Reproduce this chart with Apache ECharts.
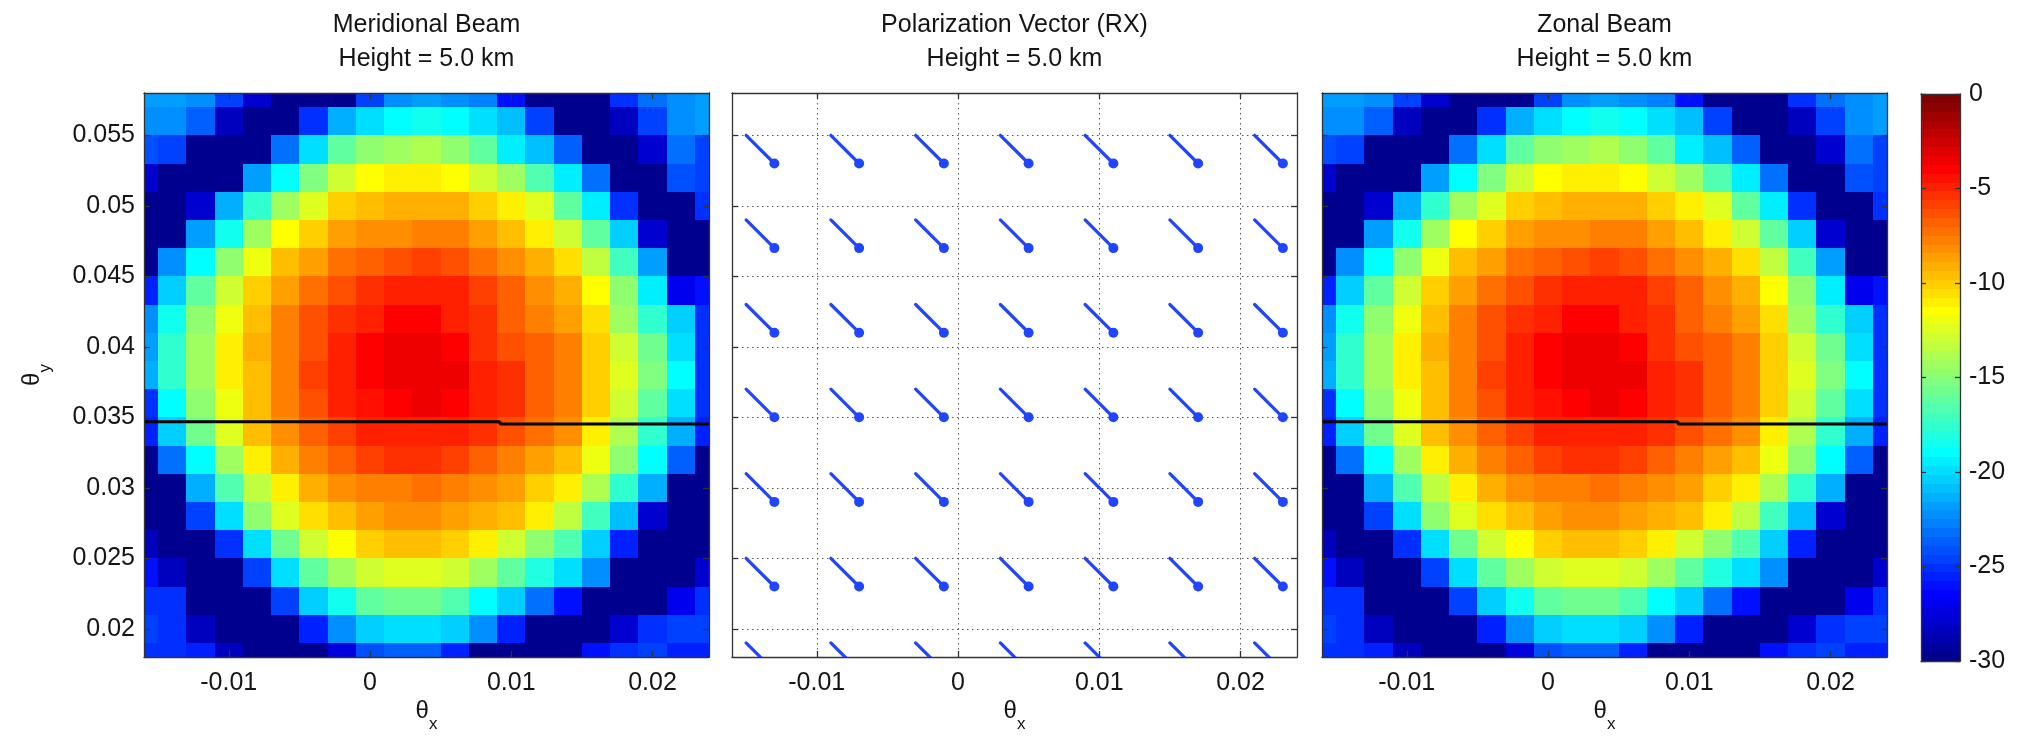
<!DOCTYPE html>
<html><head><meta charset="utf-8">
<script src="https://cdn.jsdelivr.net/npm/echarts@6/dist/echarts.min.js"></script>
<style>html,body{margin:0;padding:0;background:#fff}#c{width:2026px;height:739px}</style>
</head><body><div id="c"></div>
<script>
// ---------------- data ----------------
const cellX = [-0.016,-0.014,-0.012,-0.010,-0.008,-0.006,-0.004,-0.002,0.000,0.002,0.004,0.006,0.008,0.010,0.012,0.014,0.016,0.018,0.020,0.022,0.024];
const cellY = [0.058,0.056,0.054,0.052,0.050,0.048,0.046,0.044,0.042,0.040,0.038,0.036,0.034,0.032,0.030,0.028,0.026,0.024,0.022,0.020,0.018];
// beam pattern in dB, rows follow cellY (top -> bottom), columns follow cellX
const beamDB = [
 [-21.8,-21.8,-22.4,-24.5,-27.9,-30,-30,-30,-24.5,-22.4,-21.8,-22.2,-22.7,-26,-30,-30,-30,-25,-23,-22.2,-21.8],
 [-22.1,-22.1,-23.9,-28.3,-30,-30,-25,-21.5,-19.8,-19.2,-18.7,-19.0,-19.8,-20.7,-24.5,-30,-30,-28.5,-24.5,-22.5,-21.8],
 [-24.2,-24.5,-30,-30,-30,-23.3,-19.8,-16.4,-14.6,-14.3,-14.0,-14.6,-16.4,-19.3,-21,-23.8,-30,-30,-28,-23,-24.5],
 [-28,-30,-30,-30,-21.8,-19,-15.2,-12.9,-11.6,-11.25,-11.25,-11.4,-12.9,-14.5,-16.5,-19.5,-23.3,-30,-30,-24,-24.5],
 [-30,-30,-28,-21.2,-17.6,-14.3,-12.2,-10.2,-9.4,-9.1,-9.1,-9.2,-9.9,-10.9,-12.5,-16,-19.5,-25,-30,-30,-25],
 [-30,-30,-21.8,-18.5,-14.3,-11.7,-9.9,-8.9,-8.2,-8.0,-7.9,-7.9,-8.6,-9.4,-10.8,-12.9,-16,-20.5,-28,-30,-30],
 [-30,-22.4,-19,-14.6,-12.1,-9.7,-8.5,-7.3,-7.0,-6.4,-5.9,-6.4,-7.1,-8.2,-9.2,-10.5,-13.5,-17,-22,-30,-30],
 [-25.5,-20.4,-16.4,-12.9,-9.9,-8.75,-7.3,-6.4,-5.25,-4.9,-4.9,-5.0,-5.8,-7.0,-8.0,-9.0,-11.3,-15,-19.5,-27,-26],
 [-22.1,-18.75,-14.6,-11.8,-9.4,-7.9,-6.4,-5.4,-4.8,-4.0,-4.0,-4.8,-5.6,-6.7,-7.8,-8.6,-10.5,-14.3,-17.5,-20.5,-25],
 [-21.8,-17.6,-14.3,-11.25,-9.1,-7.6,-6.1,-5.0,-4.0,-3.6,-3.4,-4.2,-5.25,-6.1,-7.0,-7.6,-9.9,-12.9,-15.7,-19.7,-25],
 [-21.5,-17.5,-14.3,-11.25,-9.4,-7.6,-5.9,-5.0,-4.2,-3.6,-3.5,-3.6,-4.8,-5.6,-6.8,-7.6,-9.9,-12.5,-15.2,-19.2,-25],
 [-25,-18.9,-14.6,-11.8,-9.7,-7.6,-6.2,-5.0,-4.5,-4.2,-3.4,-4.0,-4.8,-5.6,-6.8,-7.9,-9.9,-12.7,-16.4,-19.8,-25],
 [-25.5,-20.4,-15.5,-12.2,-9.7,-8.2,-6.7,-5.8,-5.0,-4.8,-4.8,-4.9,-5.6,-6.4,-7.4,-8.2,-10.8,-14.0,-17.5,-21.5,-25.5],
 [-30,-23,-19.2,-14.3,-11.25,-9.1,-7.9,-6.7,-5.9,-5.6,-5.6,-5.7,-6.7,-7.6,-8.8,-9.6,-11.9,-14.6,-19.2,-23.5,-30],
 [-30,-30,-21.5,-16.8,-13.2,-11.0,-9.3,-8.4,-7.8,-7.6,-7.5,-7.6,-8.2,-8.75,-9.9,-11.0,-14.0,-17.6,-21.5,-30,-30],
 [-30,-30,-24.5,-20.1,-14.6,-12.5,-10.6,-9.4,-8.75,-8.4,-8.4,-8.5,-9.1,-9.7,-11.2,-13.4,-17.0,-20.8,-28,-30,-30],
 [-28.3,-30,-30,-25,-19.8,-15.6,-12.9,-11.6,-10.1,-9.8,-9.8,-10.1,-11.1,-12.9,-14.6,-16.6,-20.6,-25.5,-30,-30,-30],
 [-26,-28.5,-30,-30,-24.5,-19.8,-16,-14.3,-12.9,-12.4,-12.4,-13.1,-14.3,-16.0,-18.0,-20.1,-22.1,-30,-30,-30,-28],
 [-25,-25.3,-30,-30,-30,-24.5,-20.4,-18.5,-16.4,-15.6,-15.6,-16.6,-19.2,-20.4,-23,-26,-30,-30,-30,-27,-25],
 [-24.5,-25,-28.3,-30,-30,-30,-25.5,-22.1,-20.4,-19.8,-19.8,-20.4,-22.4,-25.5,-30,-30,-30,-28,-25,-24.5,-24.5],
 [-25,-25,-25.5,-28.5,-30,-30,-30,-27.5,-24.2,-23.6,-23.9,-25.5,-30,-30,-30,-30,-26,-25,-24.8,-25.5,-25.5]
];
// black cut line drawn on both beam panels
const cutX = [-0.016, 0.0092, 0.0092, 0.024];
const cutY = [0.03468, 0.03468, 0.03453, 0.03453];
// polarization vectors (start points and constant displacement)
const vecX0 = [-0.015,-0.009,-0.003,0.003,0.009,0.015,0.021];
const vecY0 = [0.055,0.049,0.043,0.037,0.031,0.025,0.019];
const vecU = 0.002, vecV = -0.002;
// ticks / labels
const xTicks = [-0.01, 0, 0.01, 0.02];
const yTicks = [0.02, 0.025, 0.03, 0.035, 0.04, 0.045, 0.05, 0.055];
const panelTitles = ['Meridional Beam', 'Polarization Vector (RX)', 'Zonal Beam'];
const heightText = 'Height = 5.0 km';
const X_MIN = -0.016, X_MAX = 0.024, Y_MIN = 0.018, Y_MAX = 0.058;
const C_MIN = -30, C_MAX = 0, C_STEP = 5, N_COLORS = 64;

// ---------------- style ----------------
const FONT = '"Liberation Sans Narrow", "Liberation Sans", Arial, sans-serif';
const FS = 25;
const AX = '#333';
const TXT = '#151515';
const VEC = '#1f45ff';
const panels = [
  {left: 144, top: 93, width: 565, height: 564},
  {left: 732, top: 93, width: 565, height: 564},
  {left: 1322, top: 93, width: 565, height: 564}
];
const cbGrid = {left: 1921, top: 94, width: 39, height: 567};

function jetRGB(i) {
  const x = i / N_COLORS;
  const c = t => Math.max(0, Math.min(1, t));
  return [c(1.5 - Math.abs(4 * x - 3)), c(1.5 - Math.abs(4 * x - 2)), c(1.5 - Math.abs(4 * x - 1))];
}
function css(rgb) { return 'rgb(' + rgb.map(v => Math.round(v * 255)).join(',') + ')'; }
function jetIndex(v) {
  const i = Math.floor((v - C_MIN) / (C_MAX - C_MIN) * N_COLORS) + 1;
  return Math.max(1, Math.min(N_COLORS, i));
}
function jetColor(v) { return css(jetRGB(jetIndex(v))); }

const fmt = v => String(+v.toFixed(4));
const nameRich = {
  t: {fontFamily: FONT, fontSize: 24, color: TXT, lineHeight: 24},
  s: {fontFamily: FONT, fontSize: 17, color: TXT, lineHeight: 24, padding: [26, 0, 0, 0]}
};

const xAxes = [], yAxes = [];
panels.forEach((p, i) => {
  const frameZ = (i === 1) ? 0 : 5;
  const split = (i === 1);
  xAxes.push({
    type: 'value', gridIndex: i, position: 'bottom', min: X_MIN, max: X_MAX, z: frameZ,
    axisLine: {show: true, onZero: false, lineStyle: {color: AX, width: 1.3}},
    axisTick: {show: true, inside: true, length: 6, customValues: xTicks, lineStyle: {color: AX, width: 1.3}},
    axisLabel: {show: true, customValues: xTicks, margin: 14, color: TXT, fontFamily: FONT, fontSize: FS, formatter: fmt},
    splitLine: {show: split, lineStyle: {color: '#555', type: [1.5, 3.5], width: 1}},
    name: '{t|θ}{s|x}', nameLocation: 'middle', nameGap: 42, nameMoveOverlap: false,
    nameTextStyle: {rich: nameRich}
  });
  xAxes.push({
    type: 'value', gridIndex: i, position: 'top', min: X_MIN, max: X_MAX, z: frameZ,
    axisLine: {show: true, onZero: false, lineStyle: {color: AX, width: 1.3}},
    axisTick: {show: true, inside: true, length: 6, customValues: xTicks, lineStyle: {color: AX, width: 1.3}},
    axisLabel: {show: false}, splitLine: {show: false}
  });
  yAxes.push({
    type: 'value', gridIndex: i, position: 'left', min: Y_MIN, max: Y_MAX, z: frameZ,
    axisLine: {show: true, onZero: false, lineStyle: {color: AX, width: 1.3}},
    axisTick: {show: true, inside: true, length: 6, customValues: yTicks, lineStyle: {color: AX, width: 1.3}},
    axisLabel: {show: i === 0, customValues: yTicks, margin: 9, color: TXT, fontFamily: FONT, fontSize: FS, formatter: fmt},
    splitLine: {show: split, lineStyle: {color: '#555', type: [1.5, 3.5], width: 1}},
    name: i === 0 ? '{t|θ}{s|y}' : '', nameLocation: 'middle', nameGap: 100, nameRotate: 90,
    nameTextStyle: {rich: nameRich}
  });
  yAxes.push({
    type: 'value', gridIndex: i, position: 'right', min: Y_MIN, max: Y_MAX, z: frameZ,
    axisLine: {show: true, onZero: false, lineStyle: {color: AX, width: 1.3}},
    axisTick: {show: true, inside: true, length: 6, customValues: yTicks, lineStyle: {color: AX, width: 1.3}},
    axisLabel: {show: false}, splitLine: {show: false}
  });
});
// colorbar axes (grid 3)
['bottom', 'top'].forEach(pos => xAxes.push({
  type: 'value', gridIndex: 3, position: pos, min: 0, max: 1, z: 5,
  axisLine: {show: true, onZero: false, lineStyle: {color: AX, width: 1.3}},
  axisTick: {show: false}, axisLabel: {show: false}, splitLine: {show: false}
}));
['left', 'right'].forEach(pos => yAxes.push({
  type: 'value', gridIndex: 3, position: pos, min: C_MIN, max: C_MAX, interval: C_STEP, z: 5,
  axisLine: {show: true, onZero: false, lineStyle: {color: AX, width: 1.3}},
  axisTick: {show: true, inside: true, length: 5, lineStyle: {color: AX, width: 1.3}},
  axisLabel: {show: pos === 'right', margin: 9, color: TXT, fontFamily: FONT, fontSize: FS},
  splitLine: {show: false}
}));

// heatmap cells
const cellData = [];
beamDB.forEach((row, i) => row.forEach((v, j) => cellData.push([cellX[j], cellY[i], v])));
const halfX = Math.abs(cellX[1] - cellX[0]) / 2, halfY = Math.abs(cellY[0] - cellY[1]) / 2;
function renderCell(params, api) {
  const x = api.value(0), y = api.value(1), v = api.value(2);
  const p0 = api.coord([x - halfX, y + halfY]);
  const p1 = api.coord([x + halfX, y - halfY]);
  const x0 = Math.round(p0[0]), y0 = Math.round(p0[1]), x1 = Math.round(p1[0]), y1 = Math.round(p1[1]);
  return {type: 'rect', shape: {x: x0, y: y0, width: x1 - x0, height: y1 - y0}, style: {fill: jetColor(v)}};
}
function beamSeries(g) {
  return {
    type: 'custom', xAxisIndex: 2 * g, yAxisIndex: 2 * g, data: cellData, clip: true, z: 1,
    renderItem: renderCell, silent: true
  };
}
function cutSeries(g) {
  return {
    type: 'line', xAxisIndex: 2 * g, yAxisIndex: 2 * g, z: 3, clip: true, silent: true,
    data: cutX.map((x, k) => [x, cutY[k]]), symbol: 'none',
    lineStyle: {color: '#000', width: 3}
  };
}
// vectors
const vecData = [];
vecY0.forEach(y => vecX0.forEach(x => vecData.push([x, y, x + vecU, y + vecV])));
function renderVec(params, api) {
  const a = api.coord([api.value(0), api.value(1)]);
  const b = api.coord([api.value(2), api.value(3)]);
  return {type: 'group', children: [
    {type: 'line', shape: {x1: a[0], y1: a[1], x2: b[0], y2: b[1]}, style: {stroke: VEC, lineWidth: 3.2, lineCap: 'round'}},
    {type: 'circle', shape: {cx: b[0], cy: b[1], r: 5}, style: {fill: VEC}}
  ]};
}
// colorbar bands (one per colormap entry)
const cbBands = Array.from({length: N_COLORS}, (_, k) => k + 1);
function renderBand(params, api) {
  const i = api.value(0);
  const lo = C_MIN + (i - 1) * (C_MAX - C_MIN) / N_COLORS, hi = C_MIN + i * (C_MAX - C_MIN) / N_COLORS;
  const p0 = api.coord([0, hi]), p1 = api.coord([1, lo]);
  const y0 = Math.round(p0[1]), y1 = Math.round(p1[1]);
  return {type: 'rect', shape: {x: p0[0], y: y0, width: p1[0] - p0[0], height: y1 - y0}, style: {fill: css(jetRGB(i))}};
}

const titles = panels.map((p, i) => ({
  text: panelTitles[i] + '\n' + heightText,
  left: p.left + p.width / 2, top: 8, textAlign: 'center', padding: 0,
  textStyle: {fontFamily: FONT, fontSize: FS, fontWeight: 'normal', color: TXT, lineHeight: 34}
}));

const option = {
  backgroundColor: '#fff',
  animation: false,
  title: titles,
  grid: panels.concat([cbGrid]).map(g => Object.assign({containLabel: false, outerBoundsMode: 'none'}, g)),
  xAxis: xAxes,
  yAxis: yAxes,
  series: [
    beamSeries(0), cutSeries(0),
    {type: 'custom', xAxisIndex: 2, yAxisIndex: 2, data: vecData, clip: true, z: 2, renderItem: renderVec, silent: true},
    beamSeries(2), cutSeries(2),
    {type: 'custom', xAxisIndex: 6, yAxisIndex: 6, data: cbBands.map(i => [i]), z: 1, renderItem: renderBand, silent: true}
  ]
};
const chart = echarts.init(document.getElementById('c'), null, {renderer: 'canvas'});
chart.setOption(option);
</script>
</body></html>
